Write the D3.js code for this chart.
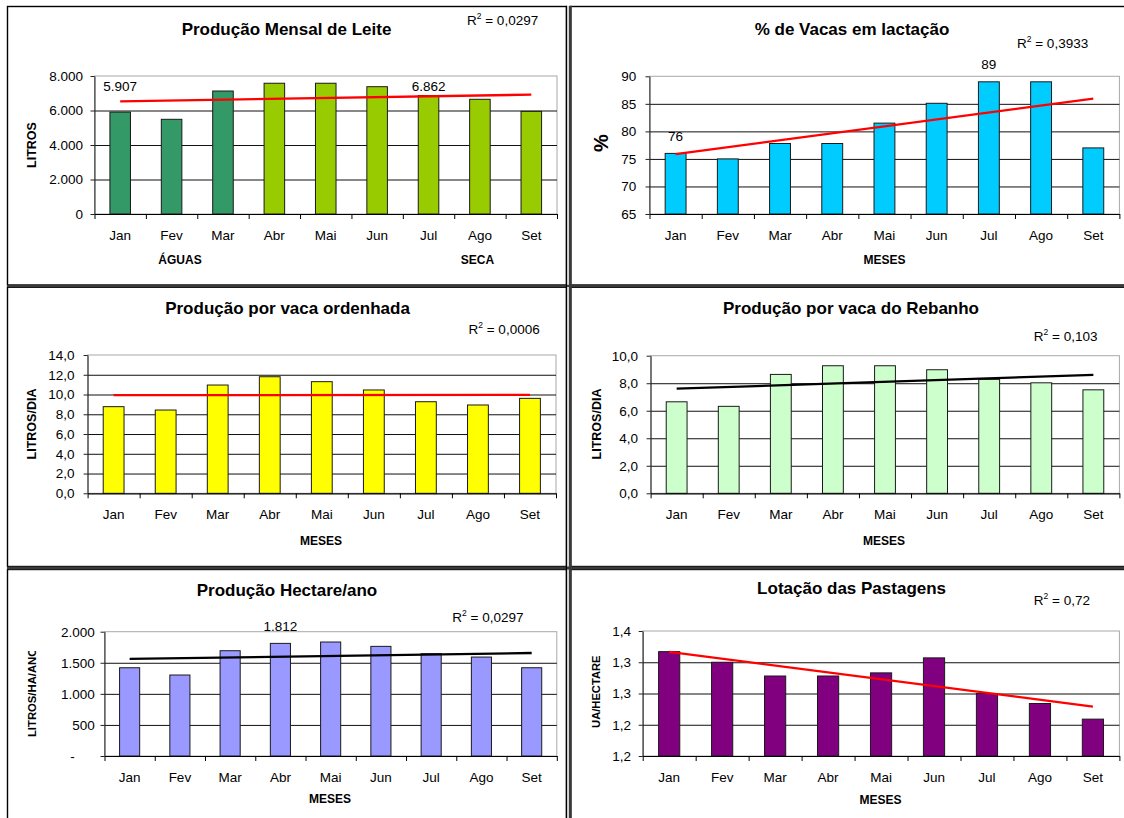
<!DOCTYPE html>
<html>
<head>
<meta charset="utf-8">
<script src="https://cdn.jsdelivr.net/npm/d3@7"></script>
<style>
  html, body { margin: 0; padding: 0; background: #fff; }
  svg { display: block; font-family: "Liberation Sans", Arial, sans-serif; }
</style>
</head>
<body>
<svg id="chart" width="1124" height="818"></svg>
<script>
// ---- data ----
const months = ["Jan", "Fev", "Mar", "Abr", "Mai", "Jun", "Jul", "Ago", "Set"];

const producaoMensal    = [5907, 5490, 7130, 7580, 7580, 7380, 6862, 6650, 5950];
const vacasLactacao     = [76, 75, 77.8, 77.8, 81.5, 85.1, 89, 89, 77];
const producaoOrdenhada = [8.77, 8.43, 10.96, 11.8, 11.3, 10.46, 9.27, 8.94, 9.61];
const producaoRebanho   = [6.65, 6.32, 8.64, 9.27, 9.27, 8.98, 8.28, 8.03, 7.52];
const producaoHectare   = [1420, 1303, 1694, 1812, 1834, 1764, 1646, 1592, 1420];
const lotacao           = [1.367, 1.350, 1.328, 1.328, 1.333, 1.357, 1.300, 1.284, 1.259];

const ticksMensal   = [0, 2000, 4000, 6000, 8000];
const labelsMensal  = ["0", "2.000", "4.000", "6.000", "8.000"];
const ticksVacas    = [65, 70, 75, 80, 85, 90];
const labelsVacas   = ["65", "70", "75", "80", "85", "90"];
const ticksOrdenha  = [0, 2, 4, 6, 8, 10, 12, 14];
const labelsOrdenha = ["0,0", "2,0", "4,0", "6,0", "8,0", "10,0", "12,0", "14,0"];
const ticksRebanho  = [0, 2, 4, 6, 8, 10];
const labelsRebanho = ["0,0", "2,0", "4,0", "6,0", "8,0", "10,0"];
const ticksHectare  = [0, 500, 1000, 1500, 2000];
const labelsHectare = ["-", "500", "1.000", "1.500", "2.000"];
const ticksLotacao  = [1.20, 1.25, 1.30, 1.35, 1.40];
const labelsLotacao = ["1,2", "1,2", "1,3", "1,3", "1,4"];

const r2Labels = ["0,0297", "0,3933", "0,0006", "0,103", "0,0297", "0,72"];

const fmtBR = d3.formatLocale({ decimal: ",", thousands: ".", grouping: [3], currency: ["R$", ""] }).format(",.0f");

const svg = d3.select("#chart");

// ---- panel frames ----
const frames = svg.append("g");
[[6.5, 278.5], [287.2, 279.3], [569.5, 300]].forEach(([fy, fh]) => {
  frames.append("rect").attr("x", 7.5).attr("y", fy).attr("width", 559).attr("height", fh)
    .attr("fill", "none").attr("stroke", "#000").attr("stroke-width", 1.4);
  frames.append("rect").attr("x", 570.5).attr("y", fy).attr("width", 600).attr("height", fh)
    .attr("fill", "none").attr("stroke", "#000").attr("stroke-width", 1.4);
});
frames.append("rect").attr("x", 7).attr("y", 284.8).attr("width", 1117).attr("height", 2.2).attr("fill", "#3a3a3a");
frames.append("rect").attr("x", 7).attr("y", 566.5).attr("width", 1117).attr("height", 3).attr("fill", "#3a3a3a");
frames.append("rect").attr("x", 568.8).attr("y", 5.8).attr("width", 3).attr("height", 818).attr("fill", "#3a3a3a");
frames.append("rect").attr("x", 565.8).attr("y", 5.8).attr("width", 1.2).attr("height", 818).attr("fill", "#000");

// ---- panel drawing ----
function linearTrend(values) {
  const mx = d3.mean(values, (d, i) => i);
  const my = d3.mean(values);
  const sxy = d3.sum(values, (d, i) => (i - mx) * (d - my));
  const sxx = d3.sum(values, (d, i) => (i - mx) * (i - mx));
  const slope = sxy / sxx;
  return i => my + slope * (i - mx);
}

function drawPanel(c) {
  const g = svg.append("g");
  const x = d3.scaleBand().domain(months).range([c.x0, c.x1]).paddingInner(0.6).paddingOuter(0.3);
  const y = d3.scaleLinear().domain([c.ticks[0], c.ticks[c.ticks.length - 1]]).range([c.y1, c.y0]);
  const step = x.step();
  const bw = x.bandwidth();

  // plot area frame
  g.append("rect")
    .attr("x", c.x0).attr("y", c.y0).attr("width", c.x1 - c.x0).attr("height", c.y1 - c.y0)
    .attr("fill", "none").attr("stroke", "#a8a8a8").attr("stroke-width", 1);

  // gridlines
  const grid = g.append("g").attr("transform", `translate(${c.x0},0)`)
    .call(d3.axisLeft(y).tickValues(c.ticks.slice(1, -1)).tickSize(-(c.x1 - c.x0)).tickFormat(""));
  grid.select(".domain").remove();
  grid.selectAll("line").attr("stroke", "#111").attr("stroke-width", 1);

  // bars
  g.append("g").selectAll("rect").data(c.values).join("rect")
    .attr("x", (d, i) => x(months[i]))
    .attr("y", d => y(d))
    .attr("width", bw)
    .attr("height", d => c.y1 - y(d))
    .attr("fill", (d, i) => c.color(i))
    .attr("stroke", "#1a1a1a").attr("stroke-width", 1);

  // linear trend line
  const trend = linearTrend(c.values);
  const ends = [0, c.values.length - 1];
  g.append("path")
    .attr("d", d3.line()(ends.map(i => [x(months[i]) + bw / 2, y(trend(i))])))
    .attr("stroke", c.trendColor).attr("stroke-width", 2.3).attr("fill", "none");

  // y axis
  const yAxis = g.append("g").attr("transform", `translate(${c.x0},0)`)
    .call(d3.axisLeft(y).tickValues(c.ticks).tickFormat((d, i) => c.tickLabels[i])
      .tickSize(4).tickSizeOuter(0).tickPadding(c.x0 - c.labelRight - 4));
  yAxis.select(".domain").attr("stroke", "#222");
  yAxis.selectAll("line").attr("stroke", "#222");
  yAxis.selectAll("text").attr("font-size", 13.5).attr("fill", "#000")
    .attr("font-family", "Liberation Sans, Arial, sans-serif")
    .attr("dx", (d, i) => (c.tickLabels[i] === "-" ? -20 : 0));

  // x axis with ticks at category boundaries
  const bx = d3.scaleLinear().domain([0, months.length]).range([c.x0, c.x0 + step * months.length]);
  const xAxis = g.append("g").attr("transform", `translate(0,${c.y1})`)
    .call(d3.axisBottom(bx).tickValues(d3.range(months.length + 1)).tickFormat("").tickSize(5).tickSizeOuter(0));
  xAxis.select(".domain").attr("stroke", "#000").attr("stroke-width", 1.2);
  xAxis.selectAll("line").attr("stroke", "#000");

  g.append("g").selectAll("text").data(months).join("text")
    .attr("x", d => x(d) + bw / 2)
    .attr("y", c.y1 + 25.5)
    .attr("text-anchor", "middle")
    .attr("font-size", 13.5)
    .text(d => d);

  // title
  g.append("text")
    .attr("x", c.titleX).attr("y", c.titleY + 6)
    .attr("text-anchor", "middle").attr("font-weight", "bold").attr("font-size", 17)
    .text(c.title);

  // R² label
  const r2 = g.append("text").attr("x", c.r2X).attr("y", c.r2Y + 5).attr("font-size", 13.5);
  r2.append("tspan").text("R");
  r2.append("tspan").attr("font-size", 8.5).attr("dy", -6).text("2");
  r2.append("tspan").attr("dy", 6).text(" = " + c.r2);

  // y axis title
  const yt = g.append("g").attr("transform", `translate(${c.yTitleX},${c.yTitleY}) rotate(-90)`);
  const ytText = yt.append("text")
    .attr("text-anchor", "middle").attr("dy", "0.35em")
    .attr("font-weight", "bold").attr("font-size", c.yTitleSize)
    .text(c.yTitle);
  if (c.yTitleClip) {
    const len = ytText.node().getComputedTextLength();
    const id = "clip-" + c.id;
    yt.append("clipPath").attr("id", id).append("rect")
      .attr("x", -len / 2 - 4).attr("y", -20).attr("width", len + 4 - c.yTitleClip).attr("height", 40);
    ytText.attr("clip-path", `url(#${id})`);
  }

  // x axis titles
  c.xTitles.forEach(t => {
    g.append("text").attr("x", t.x).attr("y", t.y + 4.3)
      .attr("text-anchor", "middle").attr("font-weight", "bold").attr("font-size", 12)
      .text(t.text);
  });

  // value labels
  c.valueLabels.forEach(i => {
    const v = c.values[i];
    const ly = c.valueLabelY != null ? c.valueLabelY : y(v) - 12.5;
    g.append("text").attr("x", x(months[i]) + bw / 2).attr("y", ly)
      .attr("text-anchor", "middle").attr("font-size", 13.5)
      .text(c.valueFormat(v));
  });
}

const panels = [
  {
    id: "mensal", values: producaoMensal, ticks: ticksMensal, tickLabels: labelsMensal,
    x0: 94.5, x1: 557, y0: 76, y1: 214, labelRight: 83,
    color: i => (i < 3 ? "#339966" : "#99cc00"), trendColor: "#ff0000",
    title: "Produção Mensal de Leite", titleX: 286.5, titleY: 29,
    r2: r2Labels[0], r2X: 467, r2Y: 20,
    yTitle: "LITROS", yTitleX: 31.7, yTitleY: 145, yTitleSize: 12.5,
    xTitles: [{ text: "ÁGUAS", x: 180, y: 260 }, { text: "SECA", x: 477.5, y: 260 }],
    valueLabels: [0, 6], valueLabelY: 90.5, valueFormat: fmtBR
  },
  {
    id: "vacas", values: vacasLactacao, ticks: ticksVacas, tickLabels: labelsVacas,
    x0: 649.5, x1: 1119.4, y0: 76.3, y1: 214, labelRight: 636.3,
    color: () => "#00ccff", trendColor: "#ff0000",
    title: "% de Vacas em lactação", titleX: 852, titleY: 29,
    r2: r2Labels[1], r2X: 1017, r2Y: 42.7,
    yTitle: "%", yTitleX: 600.6, yTitleY: 143, yTitleSize: 20,
    xTitles: [{ text: "MESES", x: 884.5, y: 260 }],
    valueLabels: [0, 6], valueFormat: d3.format(".0f")
  },
  {
    id: "ordenha", values: producaoOrdenhada, ticks: ticksOrdenha, tickLabels: labelsOrdenha,
    x0: 87.6, x1: 556, y0: 355, y1: 493.3, labelRight: 74.6,
    color: () => "#ffff00", trendColor: "#ff0000",
    title: "Produção por vaca ordenhada", titleX: 287.5, titleY: 308.3,
    r2: r2Labels[2], r2X: 468.5, r2Y: 329.3,
    yTitle: "LITROS/DIA", yTitleX: 31.7, yTitleY: 424, yTitleSize: 12.5,
    xTitles: [{ text: "MESES", x: 321, y: 540.7 }],
    valueLabels: [], valueFormat: fmtBR
  },
  {
    id: "rebanho", values: producaoRebanho, ticks: ticksRebanho, tickLabels: labelsRebanho,
    x0: 650.6, x1: 1119.4, y0: 355.7, y1: 493.3, labelRight: 638.1,
    color: () => "#ccffcc", trendColor: "#000000",
    title: "Produção por vaca do Rebanho", titleX: 851, titleY: 308,
    r2: r2Labels[3], r2X: 1033.8, r2Y: 335.7,
    yTitle: "LITROS/DIA", yTitleX: 596.4, yTitleY: 424, yTitleSize: 12.5,
    xTitles: [{ text: "MESES", x: 884, y: 540.7 }],
    valueLabels: [], valueFormat: fmtBR
  },
  {
    id: "hectare", values: producaoHectare, ticks: ticksHectare, tickLabels: labelsHectare,
    x0: 104.5, x1: 556.8, y0: 631.7, y1: 756, labelRight: 94.8,
    color: () => "#9999ff", trendColor: "#000000",
    title: "Produção Hectare/ano", titleX: 287, titleY: 590,
    r2: r2Labels[4], r2X: 452.3, r2Y: 617,
    yTitle: "LITROS/HA/ANO", yTitleX: 31.7, yTitleY: 692.5, yTitleSize: 11.3, yTitleClip: 3,
    xTitles: [{ text: "MESES", x: 330, y: 798.3 }],
    valueLabels: [3], valueFormat: fmtBR
  },
  {
    id: "lotacao", values: lotacao, ticks: ticksLotacao, tickLabels: labelsLotacao,
    x0: 642.7, x1: 1119.4, y0: 631, y1: 756, labelRight: 631,
    color: () => "#800080", trendColor: "#ff0000",
    title: "Lotação das Pastagens", titleX: 851.6, titleY: 588,
    r2: r2Labels[5], r2X: 1033.8, r2Y: 600,
    yTitle: "UA/HECTARE", yTitleX: 596.4, yTitleY: 691.7, yTitleSize: 11.2,
    xTitles: [{ text: "MESES", x: 880.5, y: 800 }],
    valueLabels: [], valueFormat: fmtBR
  }
];

panels.forEach(drawPanel);
</script>
</body>
</html>
